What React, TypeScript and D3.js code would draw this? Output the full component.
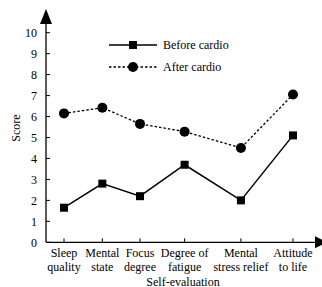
import React from "react";
import * as d3 from "d3";

const categories = [
  ["Sleep", "quality"],
  ["Mental", "state"],
  ["Focus", "degree"],
  ["Degree of", "fatigue"],
  ["Mental", "stress relief"],
  ["Attitude", "to life"],
];
const beforeCardio = [1.65, 2.8, 2.2, 3.7, 2.0, 5.1];
const afterCardio = [6.15, 6.42, 5.65, 5.28, 4.5, 7.05];
const yTicks = [0, 1, 2, 3, 4, 5, 6, 7, 8, 9, 10];
const seriesNames = ["Before cardio", "After cardio"];

const W = 322;
const H = 287;
const FONT = "Liberation Serif";
const FS = 12;

function measure(text: string): number {
  const c = document.createElement("canvas").getContext("2d");
  if (!c) return text.length * 6;
  c.font = `${FS}px "${FONT}"`;
  return c.measureText(text).width;
}

export default function App() {
  const keys = categories.map((c) => c.join(" "));
  // lay categories out by label width, as the original did
  const widths = categories.map((c) => Math.max(...c.map(measure)));
  const offsets: number[] = [];
  widths.forEach((w, i) => {
    offsets.push(i === 0 ? 0 : offsets[i - 1] + (widths[i - 1] + w) / 2 + 4);
  });
  const xLin = d3.scaleLinear().domain([offsets[0], offsets[offsets.length - 1]]).range([64, 293]);
  const x = (k: string) => xLin(offsets[keys.indexOf(k)]);
  const y = d3.scaleLinear().domain([0, 10]).range([242.3, 32.7]);
  const axisX = 46;
  const line = d3
    .line<number>()
    .x((_, i) => x(keys[i]))
    .y((d) => y(d));
  const ts = { fontFamily: FONT, fontSize: FS } as React.CSSProperties;

  return (
    <svg
      width={W}
      height={H}
      style={{ position: "absolute", left: 0, top: 0, background: "#fff" }}
    >
      <rect width={W} height={H} fill="#fff" />
      {/* y axis */}
      <line x1={axisX} x2={axisX} y1={20} y2={y(0)} stroke="#000" strokeWidth={1.3} />
      <path d={`M${axisX},9 L${axisX - 6},24 L${axisX + 6},24 Z`} fill="#000" />
      {yTicks.map((t) => (
        <g key={t}>
          <line x1={axisX} x2={axisX + 4} y1={y(t)} y2={y(t)} stroke="#000" strokeWidth={1} />
          <text x={37} y={y(t)} dy="0.35em" textAnchor="end" style={ts} fill="#000">
            {t}
          </text>
        </g>
      ))}
      <text transform={`translate(20,128) rotate(-90)`} textAnchor="middle" style={ts} fill="#000">
        Score
      </text>
      {/* x axis */}
      <line x1={axisX} x2={316} y1={y(0)} y2={y(0)} stroke="#000" strokeWidth={1.3} />
      <path d={`M327,${y(0)} L315,${y(0) - 6} L315,${y(0) + 6} Z`} fill="#000" />
      {categories.map((c, i) => (
        <g key={i}>
          <line x1={x(keys[i])} x2={x(keys[i])} y1={y(0)} y2={y(0) - 4} stroke="#000" strokeWidth={1} />
          <text x={x(keys[i])} y={256.5} textAnchor="middle" style={ts} fill="#000">
            {c[0]}
          </text>
          <text x={x(keys[i])} y={271} textAnchor="middle" style={ts} fill="#000">
            {c[1]}
          </text>
        </g>
      ))}
      <text x={183} y={285.5} textAnchor="middle" style={ts} fill="#000">
        Self-evaluation
      </text>
      {/* series */}
      <path d={line(afterCardio) || ""} fill="none" stroke="#000" strokeWidth={1.3} strokeDasharray="2.5,2" />
      <path d={line(beforeCardio) || ""} fill="none" stroke="#000" strokeWidth={1.5} />
      {afterCardio.map((v, i) => (
        <circle key={i} cx={x(keys[i])} cy={y(v)} r={5} fill="#000" />
      ))}
      {beforeCardio.map((v, i) => (
        <rect key={i} x={x(keys[i]) - 4} y={y(v) - 4} width={8} height={8} fill="#000" />
      ))}
      {/* legend */}
      <line x1={109} x2={157} y1={45} y2={45} stroke="#000" strokeWidth={1.5} />
      <rect x={129} y={41} width={8} height={8} fill="#000" />
      <text x={163} y={45} dy="0.35em" style={ts} fill="#000">
        {seriesNames[0]}
      </text>
      <line x1={109} x2={157} y1={67} y2={67} stroke="#000" strokeWidth={1.3} strokeDasharray="2.5,2" />
      <circle cx={133} cy={67} r={5} fill="#000" />
      <text x={163} y={67} dy="0.35em" style={ts} fill="#000">
        {seriesNames[1]}
      </text>
    </svg>
  );
}
